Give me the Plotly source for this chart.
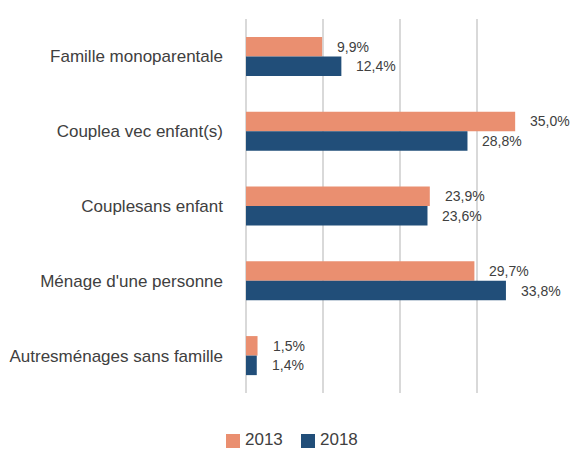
import plotly.graph_objects as go

categories = ["Famille monoparentale", "Couplea vec enfant(s)", "Couplesans enfant",
              "Ménage d'une personne", "Autresménages sans famille"]
series_names = ["2013", "2018"]
values_2013 = [9.9, 35.0, 23.9, 29.7, 1.5]
values_2018 = [12.4, 28.8, 23.6, 33.8, 1.4]
colors = ["#EA8F70", "#214E79"]

FONT = "Liberation Sans, Arial, sans-serif"
TXT = "#404040"

W, H = 571, 451
ML, MR, MT, MB = 246, 17, 19, 58
PW, PH = W - ML - MR, H - MT - MB


def px_to_paper(px, py):
    return (px - ML) / PW, (H - MB - py) / PH


fig = go.Figure()
for name, vals, col in zip(series_names, [values_2013, values_2018], colors):
    fig.add_trace(go.Bar(y=categories, x=vals, name=name, orientation="h",
                         marker=dict(color=col, line=dict(width=0)),
                         hoverinfo="skip", showlegend=False))

bar_px = PH / len(categories) * (1 - 0.478) / 2
annotations = []
for vals, shift in [(values_2013, bar_px / 2), (values_2018, -bar_px / 2)]:
    for c, v in zip(categories, vals):
        annotations.append(dict(x=v, y=c, xref="x", yref="y",
                                text=f"{v:.1f}%".replace(".", ","),
                                showarrow=False, xanchor="left", yanchor="middle",
                                xshift=13, yshift=shift,
                                font=dict(family=FONT, size=14, color=TXT)))

# manual legend (placed in the bottom margin)
shapes = []
legend_left = [226, 301]
sq = 14
legend_cy = 441
for name, col, lx in zip(series_names, colors, legend_left):
    x0, y0 = px_to_paper(lx, legend_cy + sq / 2)
    x1, y1 = px_to_paper(lx + sq, legend_cy - sq / 2)
    shapes.append(dict(type="rect", xref="paper", yref="paper", x0=x0, x1=x1, y0=y0, y1=y1,
                       fillcolor=col, line=dict(width=0), layer="above"))
    tx, ty = px_to_paper(lx + sq + 4, legend_cy - 2)
    annotations.append(dict(x=tx, y=ty, xref="paper", yref="paper", text=name,
                            showarrow=False, xanchor="left", yanchor="middle",
                            borderpad=0,
                            font=dict(family=FONT, size=17, color=TXT)))

fig.update_layout(
    width=W, height=H,
    margin=dict(l=ML, r=MR, t=MT, b=MB),
    paper_bgcolor="white", plot_bgcolor="white",
    barmode="group", bargap=0.478, bargroupgap=0,
    font=dict(family=FONT, size=17, color=TXT),
    annotations=annotations,
    shapes=shapes,
    showlegend=False,
    xaxis=dict(range=[0, 40.05], dtick=10, showticklabels=False, showgrid=True,
               gridcolor="#D9D9D9", gridwidth=2, zeroline=True,
               zerolinecolor="#D9D9D9", zerolinewidth=2, showline=False, fixedrange=True,
               automargin=False),
    yaxis=dict(autorange="reversed", showgrid=False, ticks="", ticklabelstandoff=22,
               tickfont=dict(family=FONT, size=17, color=TXT), showline=False,
               fixedrange=True, automargin=False),
)

fig.write_html("out.html", config={"displayModeBar": False},
               post_script="document.body.style.margin='0';document.body.style.overflow='hidden';")
